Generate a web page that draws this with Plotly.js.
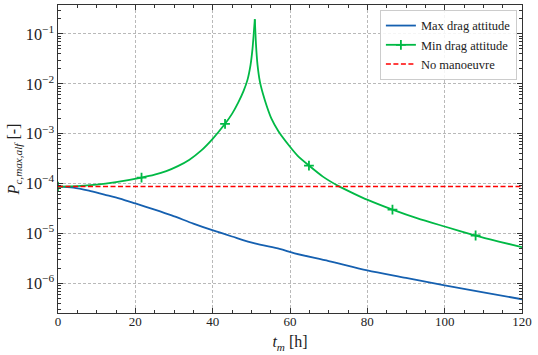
<!DOCTYPE html>
<html>
<head>
<meta charset="utf-8">
<script src="https://cdn.plot.ly/plotly-3.0.1.min.js"></script>
<style>html,body{margin:0;padding:0;background:#fff;}#chart{width:538px;height:355px;}</style>
</head>
<body>
<div id="chart"></div>
<script>
// Time axis (hours) and collision probability values
var tMax = [0, 4, 8, 12, 16, 20, 25, 29.4, 35, 40.1, 45, 50.9, 57.3, 61.2, 70, 80, 90, 100, 110, 120];
var pMax = [8.7e-5, 8.3e-5, 7.2e-5, 6.0e-5, 5.0e-5, 4.0e-5, 3.0e-5, 2.3e-5, 1.58e-5, 1.15e-5, 8.7e-6, 6.3e-6, 4.9e-6, 4.0e-6, 2.8e-6, 1.82e-6, 1.29e-6, 9.1e-7, 6.6e-7, 4.8e-7];

var tMin = [0, 5, 10, 15, 21.6, 25, 28, 31, 34, 37, 40, 43.2, 45, 46.6, 48, 49, 49.8, 50.3, 50.6, 50.9,
            51.2, 51.6, 52.2, 53, 54, 55.2, 57, 59.9, 62, 64.9, 68.5, 72.8, 76.5, 80.1, 86.5, 93, 100, 108, 114, 120];
var pMin = [8.7e-5, 8.9e-5, 9.5e-5, 1.07e-4, 1.32e-4, 1.51e-4, 1.78e-4, 2.24e-4, 3.02e-4, 4.57e-4, 7.9e-4, 1.58e-3, 2.5e-3, 4.2e-3, 7.2e-3, 1.2e-2, 2.4e-2, 5.0e-2, 9.5e-2, 0.197,
            6.3e-2, 2.4e-2, 1.12e-2, 6.3e-3, 3.55e-3, 2.0e-3, 1.12e-3, 5.6e-4, 3.6e-4, 2.3e-4, 1.38e-4, 8.7e-5, 6.3e-5, 4.7e-5, 3.0e-5, 2.0e-5, 1.38e-5, 9.1e-6, 6.9e-6, 5.3e-6];
// times of the "+" markers on the min drag curve
var minMarkerT = [0, 21.6, 43.2, 64.9, 86.5, 108];

var tNone = [0, 120];
var pNone = [8.7e-5, 8.7e-5];

var seriesNames = ["Max drag attitude", "Min drag attitude", "No manoeuvre"];

// split min-drag curve at its peak so each side can be smoothed without rounding the cusp
var iPeak = pMin.indexOf(Math.max.apply(null, pMin));
var tL = tMin.slice(0, iPeak + 1), pL = pMin.slice(0, iPeak + 1);
var tR = tMin.slice(iPeak), pR = pMin.slice(iPeak);

// marker positions with gaps so no line joins them
var mx = [], my = [];
minMarkerT.forEach(function(tm, k){
  var i = tMin.indexOf(tm);
  if (k > 0) { mx.push(null); my.push(null); }
  mx.push(tMin[i]); my.push(pMin[i]);
});

var blue = "#1560B0", green = "#00B945", red = "#FF0000";
var fontFam = "Liberation Serif, DejaVu Serif, serif";

var traces = [
  {x: tMax, y: pMax, mode: "lines", name: seriesNames[0], line: {color: blue, width: 1.8, shape: "spline", smoothing: 0.8}},
  {x: tL, y: pL, mode: "lines", name: seriesNames[1], showlegend: false, line: {color: green, width: 1.8, shape: "spline", smoothing: 0.6}},
  {x: tR, y: pR, mode: "lines", name: seriesNames[1], showlegend: false, line: {color: green, width: 1.8, shape: "spline", smoothing: 0.6}},
  {x: mx, y: my, mode: "lines+markers", name: seriesNames[1], connectgaps: false,
   line: {color: green, width: 1.8}, marker: {symbol: "cross-thin", size: 7, color: green, line: {color: green, width: 1.8}}},
  {x: tNone, y: pNone, mode: "lines", name: seriesNames[2], line: {color: red, width: 1.5, dash: "5px,2.5px"}}
];

var axisCommon = {
  showline: true, linecolor: "#333", linewidth: 1.2, mirror: "allticks",
  ticks: "inside", ticklen: 5, tickwidth: 1, tickcolor: "#333",
  showgrid: true, gridcolor: "#8a8a8a", gridwidth: 0.6, griddash: "3px,2px",
  zeroline: false,
  tickfont: {family: fontFam, size: 13, color: "#222"}
};

var layout = {
  width: 538, height: 355,
  margin: {l: 58, r: 16, t: 5, b: 42},
  paper_bgcolor: "#fff", plot_bgcolor: "#fff",
  font: {family: fontFam, color: "#222"},
  showlegend: true,
  legend: {x: 0.989, y: 0.984, xanchor: "right", yanchor: "top", traceorder: "normal",
           bgcolor: "rgba(255,255,255,0.85)", bordercolor: "#ccc", borderwidth: 1,
           font: {family: fontFam, size: 12.5, color: "#222"}},
  xaxis: Object.assign({}, axisCommon, {
    range: [0, 120], dtick: 20, tick0: 0, ticklabelstandoff: -4,
    minor: {ticks: "inside", ticklen: 3, dtick: 5, tickcolor: "#333", showgrid: false},
    title: {text: "<i>t</i><sub><i>m</i></sub> [h]", font: {family: fontFam, size: 16, color: "#222"}, standoff: 8}
  }),
  yaxis: Object.assign({}, axisCommon, {
    type: "log", range: [-6.594, -0.42], dtick: 1, exponentformat: "power",
    minor: {ticks: "inside", ticklen: 3, dtick: "D1", tickcolor: "#333", showgrid: false},
    title: {text: "<i>P</i><sub><i>c,max,alf</i></sub> [-]", font: {family: fontFam, size: 16, color: "#222"}, standoff: 2}
  })
};

Plotly.newPlot("chart", traces, layout, {staticPlot: true, displayModeBar: false});
</script>
</body>
</html>
